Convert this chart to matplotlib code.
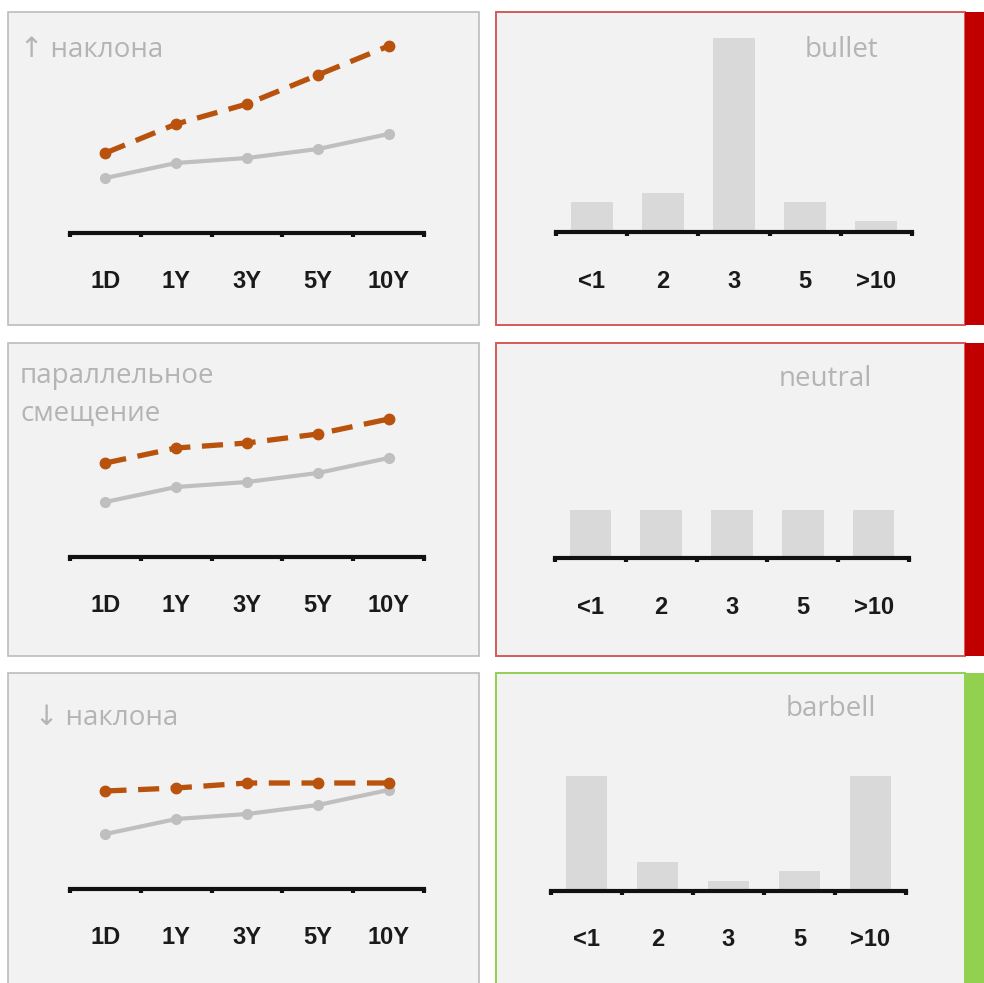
import matplotlib
matplotlib.use("Agg")
import matplotlib.pyplot as plt
from matplotlib.patches import Rectangle
from matplotlib import font_manager

# data (relative units above the axis line)
tenors = ["1D", "1Y", "3Y", "5Y", "10Y"]
base_curve = [55, 70, 75, 84, 99]
steeper_curve = [80, 109, 129, 158, 187]
parallel_curve = [94, 109, 114, 123, 138]
flatter_curve = [98, 101, 106, 106, 106]

buckets = ["<1", "2", "3", "5", ">10"]
bullet_w = [30, 39, 194, 30, 11]
neutral_w = [48, 48, 48, 48, 48]
barbell_w = [115, 29, 10, 20, 115]

line_titles = ["\u2191 наклона", "параллельное\nсмещение", "\u2193 наклона"]
bar_titles = ["bullet", "neutral", "barbell"]

W, H = 984, 983
ORANGE = "#b8520c"
LGRAY = "#bfbfbf"
BAR = "#d9d9d9"
TITLE = "#b4b4b4"
RED = "#c00000"
GREEN = "#92d050"

names = {f.name for f in font_manager.fontManager.ttflist}
tick_font = ["Liberation Sans Narrow", "DejaVu Sans"] if "Liberation Sans Narrow" in names else ["Liberation Sans", "DejaVu Sans"]
title_font = ["Open Sans", "DejaVu Sans"]

fig = plt.figure(figsize=(W / 100, H / 100), dpi=100)
fig.patch.set_facecolor("white")

# background layer in pixel coords for the panel frames and titles
bg = fig.add_axes([0, 0, 1, 1])
bg.set_xlim(0, W)
bg.set_ylim(H, 0)
bg.axis("off")

row_tops = [12, 343, 673]
row_bottoms = [325, 656, 1000]
side_colors = [RED, RED, GREEN]
edge_colors = ["#d65a5a", "#d65a5a", GREEN]

for i in range(3):
    t, b = row_tops[i], row_bottoms[i]
    bg.add_patch(Rectangle((8, t), 471, b - t, facecolor="#f2f2f2", edgecolor="#bcbcbc", lw=1.2))
    bg.add_patch(Rectangle((496, t), 469, b - t, facecolor="#f2f2f2", edgecolor=edge_colors[i], lw=1.4))
    bg.add_patch(Rectangle((965, t), 19, b - t, facecolor=side_colors[i], edgecolor="none"))

# titles
bg.text(20, 50, line_titles[0], fontsize=20, color=TITLE, family=title_font, va="center", ha="left")
bg.text(20, 395, line_titles[1], fontsize=20, color=TITLE, family=title_font, va="center", ha="left", linespacing=1.45)
bg.text(35, 718, line_titles[2], fontsize=20, color=TITLE, family=title_font, va="center", ha="left")
bg.text(878, 50, bar_titles[0], fontsize=20, color=TITLE, family=title_font, va="center", ha="right")
bg.text(872, 379, bar_titles[1], fontsize=20, color=TITLE, family=title_font, va="center", ha="right")
bg.text(876, 709, bar_titles[2], fontsize=20, color=TITLE, family=title_font, va="center", ha="right")


def make_axes(x0, x1, y_axis):
    ax = fig.add_axes([x0 / W, 1 - y_axis / H, (x1 - x0) / W, 200 / H])
    ax.patch.set_alpha(0)
    ax.set_xlim(-0.5, 4.5)
    ax.set_ylim(0, 200)
    for s in ["top", "left", "right"]:
        ax.spines[s].set_visible(False)
    ax.spines["bottom"].set_linewidth(3)
    ax.spines["bottom"].set_color("#111111")
    ax.set_yticks([])
    ax.set_xticks(range(5))
    ax.set_xticks([k - 0.5 for k in range(6)], minor=True)
    ax.tick_params(axis="x", which="major", length=0, pad=27)
    ax.tick_params(axis="x", which="minor", length=3, width=3, color="#111111", direction="out")
    return ax


line_sets = [steeper_curve, parallel_curve, flatter_curve]
line_axis_y = [233, 557, 889]
for i in range(3):
    ax = make_axes(70, 424, line_axis_y[i])
    ax.plot(range(5), base_curve, color=LGRAY, lw=3, marker="o", ms=7, clip_on=False)
    ax.plot(range(5), line_sets[i], color=ORANGE, lw=3.8, ls=(0, (4, 2.2)), marker="o", ms=7.5, clip_on=False)
    ax.set_xticklabels(tenors, fontsize=17, fontweight="bold", color="#1a1a1a", family=tick_font)

bar_sets = [bullet_w, neutral_w, barbell_w]
bar_axis_y = [232, 558, 891]
bar_x = [(556, 912), (555, 909), (551, 906)]
for i in range(3):
    ax = make_axes(bar_x[i][0], bar_x[i][1], bar_axis_y[i])
    ax.bar(range(5), bar_sets[i], width=0.59, color=BAR, zorder=1)
    ax.set_xticklabels(buckets, fontsize=17, fontweight="bold", color="#1a1a1a", family=tick_font)

fig.savefig("out.png", dpi=100)
